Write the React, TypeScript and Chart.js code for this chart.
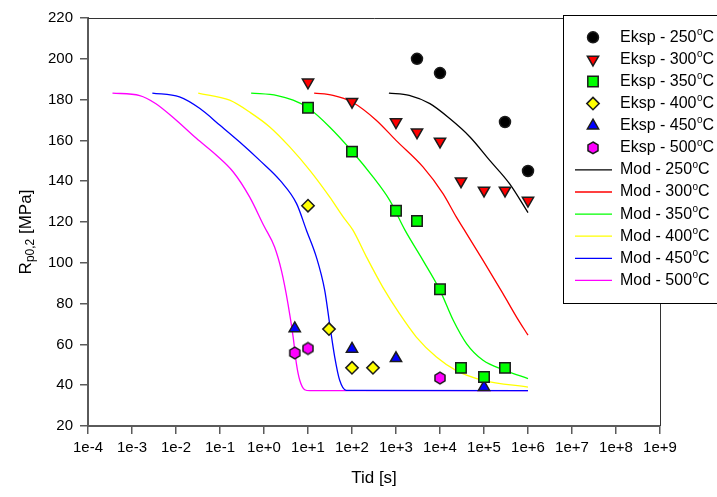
import { useEffect, useRef } from 'react';
import { Chart, registerables } from 'chart.js';

Chart.register(...registerables);

// Experimental yield strength Rp0,2 [MPa] vs. holding time [s]
const exp250T = [3000, 10000, 300000, 1000000];
const exp250R = [200, 193, 169, 145];

const exp300T = [10, 100, 1000, 3000, 10000, 30000, 100000, 300000, 1000000];
const exp300R = [188.5, 179, 169, 164, 159.5, 140, 135.5, 135.5, 130.5];

const exp350T = [10, 100, 1000, 3000, 10000, 30000, 100000, 300000];
const exp350R = [176, 154.5, 125.5, 120.5, 87, 48.5, 44, 48.5];

const exp400T = [10, 30, 100, 300];
const exp400R = [128, 67.5, 48.5, 48.5];

const exp450T = [5, 100, 1000, 100000];
const exp450R = [67.8, 57.8, 53.2, 39];

const exp500T = [5, 10, 10000];
const exp500R = [55.8, 58, 43.5];

// Model curves
const mod250T = [690, 2000, 5900, 16600, 48000, 135000, 380000, 1000000];
const mod250R = [183.2, 182.1, 178, 170.7, 161.7, 150.2, 138.8, 124.6];

const mod300T = [13.8, 37, 100, 355, 1000, 4100, 11700, 23400, 36000, 95000, 270000, 550000, 1000000];
const mod300R = [183.2, 182.1, 178.8, 169.9, 160, 147, 133.9, 122.5, 116, 101.2, 84.9, 73.4, 64.5];

const mod350T = [0.51, 2.0, 4.6, 10, 31, 100, 300, 720, 1600, 4100, 10000, 20000, 40000, 95000, 300000, 1000000];
const mod350R = [183.2, 182, 179.7, 176, 166.6, 154.7, 142.1, 130.6, 116, 101.2, 86.5, 71.8, 60.4, 52.2, 47.3, 43.2];

const mod400T = [0.032, 0.166, 0.5, 1.35, 3.84, 11, 31, 63, 105, 214, 500, 1200, 2900, 8300, 23000, 95000, 1000000];
const mod400R = [183.2, 179.7, 173.5, 166.6, 156.8, 145.3, 132.3, 122.5, 116, 102.8, 88.1, 75.1, 63.6, 53.8, 47.3, 42.4, 39.1];

const mod450T = [0.0029, 0.012, 0.035, 0.1, 0.28, 0.8, 2.4, 5.5, 9.2, 15.5, 24, 31, 40.5, 52.5, 74, 1000000];
const mod450R = [183.2, 181.3, 175.6, 167.4, 159.2, 150.2, 140, 129, 116, 102.8, 86.5, 70.2, 53.8, 42.4, 37.5, 37.3];

const mod500T = [0.00036, 0.0015, 0.0035, 0.01, 0.029, 0.083, 0.2, 0.47, 1.0, 1.74, 2.5, 3.5, 4.6, 5.45, 6.5, 8.4, 11, 1000000];
const mod500R = [183.2, 182, 178, 170, 161, 152.7, 144.5, 132.3, 118, 107.7, 96, 80, 63.6, 50.6, 42.4, 37.8, 37.3, 37.3];

// Axis ticks
const xTickValues = [1e-4, 1e-3, 1e-2, 1e-1, 1e0, 1e1, 1e2, 1e3, 1e4, 1e5, 1e6, 1e7, 1e8, 1e9];
const yTickMin = 20;
const yTickMax = 220;
const yTickStep = 20;

const expLabels = ['250', '300', '350', '400', '450', '500'];

const FONT = '"Liberation Sans", Arial, sans-serif';
const EDGE = '#1c1c1c';
const AXIS = '#5a5a5a';

const toXY = (t: number[], r: number[]) => t.map((x, i) => ({ x, y: r[i] }));

function hexagonImage(r: number, fill: string): HTMLCanvasElement {
  const size = Math.ceil(2 * r + 4);
  const c = document.createElement('canvas');
  c.width = size;
  c.height = size;
  const g = c.getContext('2d')!;
  drawHexagon(g, size / 2, size / 2, r, fill);
  return c;
}

function drawHexagon(g: CanvasRenderingContext2D, cx: number, cy: number, r: number, fill: string) {
  g.beginPath();
  for (let k = 0; k < 6; k++) {
    const a = -Math.PI / 2 + (k * Math.PI) / 3;
    const px = cx + r * Math.cos(a);
    const py = cy + r * Math.sin(a);
    if (k === 0) g.moveTo(px, py);
    else g.lineTo(px, py);
  }
  g.closePath();
  g.fillStyle = fill;
  g.fill();
  g.lineWidth = 1.5;
  g.strokeStyle = EDGE;
  g.stroke();
}

type MarkerKind = 'circle' | 'triDown' | 'square' | 'diamond' | 'triUp' | 'hexagon';

const markerKinds: MarkerKind[] = ['circle', 'triDown', 'square', 'diamond', 'triUp', 'hexagon'];
const markerFills = ['#000000', '#ff0000', '#00ff00', '#ffff00', '#0000ff', '#ff00ff'];
const modelColors = ['#000000', '#ff0000', '#00ff00', '#ffff00', '#0000ff', '#ff00ff'];

function drawMarker(g: CanvasRenderingContext2D, kind: MarkerKind, x: number, y: number, fill: string) {
  g.save();
  g.lineWidth = 1.5;
  g.strokeStyle = EDGE;
  g.fillStyle = fill;
  g.beginPath();
  if (kind === 'circle') {
    g.arc(x, y, 5.5, 0, Math.PI * 2);
  } else if (kind === 'triDown' || kind === 'triUp') {
    const r = 6.5;
    const s = kind === 'triUp' ? -1 : 1;
    for (let k = 0; k < 3; k++) {
      const a = (k * 2 * Math.PI) / 3;
      const px = x + Math.sin(a) * r;
      const py = y + s * Math.cos(a) * r;
      if (k === 0) g.moveTo(px, py);
      else g.lineTo(px, py);
    }
    g.closePath();
  } else if (kind === 'square') {
    g.rect(x - 5.2, y - 5.2, 10.4, 10.4);
  } else if (kind === 'diamond') {
    g.moveTo(x, y - 6.2);
    g.lineTo(x + 6.2, y);
    g.lineTo(x, y + 6.2);
    g.lineTo(x - 6.2, y);
    g.closePath();
  } else {
    g.restore();
    drawHexagon(g, x, y, 5.8, fill);
    return;
  }
  g.fill();
  g.stroke();
  g.restore();
}

const decorPlugin = {
  id: 'decor',
  afterDraw(chart: any) {
    const { ctx, chartArea: a } = chart;
    ctx.save();

    // top and right frame lines
    ctx.strokeStyle = '#333333';
    ctx.lineWidth = 1;
    ctx.beginPath();
    ctx.moveTo(a.left, a.top + 0.5);
    ctx.lineTo(a.right + 0.5, a.top + 0.5);
    ctx.lineTo(a.right + 0.5, a.bottom);
    ctx.stroke();

    // x axis title
    ctx.fillStyle = '#000';
    ctx.font = `17px ${FONT}`;
    ctx.textAlign = 'center';
    ctx.textBaseline = 'middle';
    ctx.fillText('Tid [s]', (a.left + a.right) / 2, 478);

    // y axis title with subscript
    ctx.save();
    ctx.translate(26, 232);
    ctx.rotate(-Math.PI / 2);
    ctx.textAlign = 'left';
    ctx.textBaseline = 'middle';
    const big = `17px ${FONT}`;
    const small = `12px ${FONT}`;
    ctx.font = big;
    const wR = ctx.measureText('R').width;
    const wTail = ctx.measureText(' [MPa]').width;
    ctx.font = small;
    const wSub = ctx.measureText('p0,2').width;
    let cx = -(wR + wSub + wTail) / 2;
    ctx.font = big;
    ctx.fillText('R', cx, 0);
    cx += wR;
    ctx.font = small;
    ctx.fillText('p0,2', cx, 5);
    cx += wSub;
    ctx.font = big;
    ctx.fillText(' [MPa]', cx, 0);
    ctx.restore();

    // legend box
    const lx = 563.5;
    const ly = 15.5;
    const lb = 303.5;
    ctx.fillStyle = '#ffffff';
    ctx.fillRect(lx, ly, 200, lb - ly);
    ctx.strokeStyle = '#000';
    ctx.lineWidth = 1;
    ctx.strokeRect(lx, ly, 200, lb - ly);

    const rowY = (i: number) => 37.3 + i * 22.1;
    const textX = 620;
    const drawLabel = (prefix: string, temp: string, y: number) => {
      ctx.fillStyle = '#000';
      ctx.textAlign = 'left';
      ctx.textBaseline = 'middle';
      ctx.font = `16px ${FONT}`;
      const main = `${prefix} - ${temp}`;
      ctx.fillText(main, textX, y);
      let x = textX + ctx.measureText(main).width + 0.5;
      ctx.font = `10px ${FONT}`;
      ctx.fillText('o', x, y - 5);
      x += ctx.measureText('o').width;
      ctx.font = `16px ${FONT}`;
      ctx.fillText('C', x, y);
    };

    expLabels.forEach((temp, i) => {
      drawMarker(ctx, markerKinds[i], 593, rowY(i), markerFills[i]);
      drawLabel('Eksp', temp, rowY(i));
    });
    expLabels.forEach((temp, i) => {
      const y = rowY(i + 6);
      ctx.strokeStyle = modelColors[i];
      ctx.lineWidth = 1.3;
      ctx.beginPath();
      ctx.moveTo(575, y);
      ctx.lineTo(612, y);
      ctx.stroke();
      drawLabel('Mod', temp, y);
    });

    ctx.restore();
  },
};

export default function App() {
  const canvasRef = useRef<HTMLCanvasElement | null>(null);

  useEffect(() => {
    const canvas = canvasRef.current;
    if (!canvas) return;

    const expT = [exp250T, exp300T, exp350T, exp400T, exp450T, exp500T];
    const expR = [exp250R, exp300R, exp350R, exp400R, exp450R, exp500R];
    const modT = [mod250T, mod300T, mod350T, mod400T, mod450T, mod500T];
    const modR = [mod250R, mod300R, mod350R, mod400R, mod450R, mod500R];

    const pointStyles: any[] = ['circle', 'triangle', 'rect', 'rectRot', 'triangle', hexagonImage(5.8, markerFills[5])];
    const pointRadii = [5.5, 6.5, 7.4, 6.2, 6.5, 5.8];
    const rotations = [0, 180, 0, 0, 0, 0];

    const modelSets = expLabels.map((temp, i) => ({
      label: `Mod - ${temp}°C`,
      data: toXY(modT[i], modR[i]),
      showLine: true,
      borderColor: modelColors[i],
      borderWidth: 1.3,
      pointRadius: 0,
      fill: false,
      cubicInterpolationMode: 'monotone' as const,
      order: 2,
    }));

    const expSets = expLabels.map((temp, i) => ({
      label: `Eksp - ${temp}°C`,
      data: toXY(expT[i], expR[i]),
      showLine: false,
      pointStyle: pointStyles[i],
      pointRadius: pointRadii[i],
      rotation: rotations[i],
      backgroundColor: markerFills[i],
      borderColor: EDGE,
      borderWidth: 1.5,
      order: 1,
    }));

    const chart = new Chart(canvas, {
      type: 'scatter',
      data: { datasets: [...modelSets, ...expSets] as any },
      options: {
        animation: false,
        responsive: true,
        maintainAspectRatio: false,
        layout: { padding: { top: 18, right: 57, bottom: 0, left: 0 } },
        plugins: { legend: { display: false }, tooltip: { enabled: false } },
        scales: {
          x: {
            type: 'logarithmic',
            min: 1e-4,
            max: 1e9,
            afterBuildTicks: (s: any) => {
              s.ticks = xTickValues.map((value) => ({ value }));
            },
            afterFit: (s: any) => {
              s.height = 71;
            },
            ticks: {
              autoSkip: false,
              maxRotation: 0,
              padding: 5,
              color: '#000',
              font: { family: FONT, size: 15 },
              callback: (v: any) => Number(v).toExponential(0),
            },
            grid: {
              drawOnChartArea: false,
              drawTicks: true,
              tickLength: 8,
              color: AXIS,
              lineWidth: 1.5,
            },
            border: { display: true, color: AXIS, width: 2 },
          },
          y: {
            type: 'linear',
            min: yTickMin,
            max: yTickMax,
            afterFit: (s: any) => {
              s.width = 88;
            },
            ticks: {
              stepSize: yTickStep,
              padding: 7,
              color: '#000',
              font: { family: FONT, size: 15 },
            },
            grid: {
              drawOnChartArea: false,
              drawTicks: true,
              tickLength: 8,
              color: AXIS,
              lineWidth: 1.5,
            },
            border: { display: true, color: AXIS, width: 2 },
          },
        },
      },
      plugins: [decorPlugin],
    });

    return () => chart.destroy();
  }, []);

  return (
    <div style={{ position: 'fixed', left: 0, top: 0, width: 717, height: 497, background: '#fff' }}>
      <canvas ref={canvasRef} />
    </div>
  );
}
